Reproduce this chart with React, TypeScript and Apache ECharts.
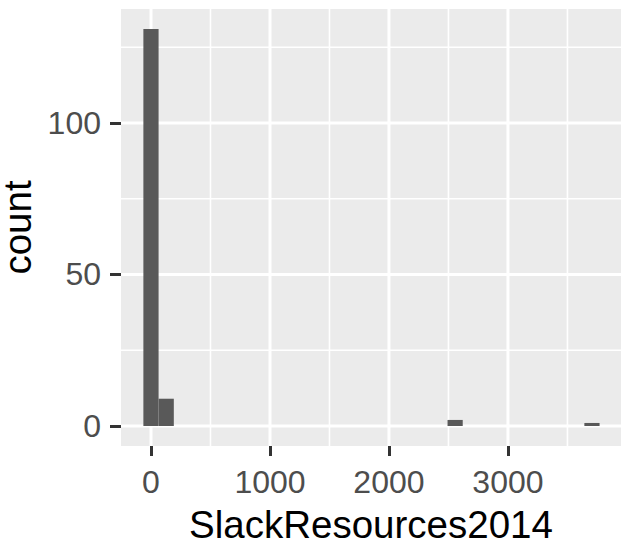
import React, { useEffect, useRef } from "react";
import * as echarts from "echarts";

// Histogram bins (30 bins, only non-empty ones listed)
const binCenters = [0, 128, 2556, 3706];
const binCounts = [131, 9, 2, 1];
const binWidth = 127.8;

const xTicks = [0, 1000, 2000, 3000];
const xMinor = [500, 1500, 2500, 3500];
const yTicks = [0, 50, 100];
const yMinor = [25, 75, 125];

const X_MIN = -252;
const X_MAX = 3950;
const Y_MIN = -6.6;
const Y_MAX = 137.6;

const FONT = "'Liberation Sans', Arial, sans-serif";

function gridSeries(values: number[], vertical: boolean, width: number, z: number) {
  return {
    type: "custom",
    silent: true,
    z,
    clip: true,
    data: values.map((v) => (vertical ? [v, 0] : [0, v])),
    renderItem: (params: any, api: any) => {
      const cs = params.coordSys;
      const p = api.coord([api.value(0), api.value(1)]);
      const shape = vertical
        ? { x1: p[0], y1: cs.y, x2: p[0], y2: cs.y + cs.height }
        : { x1: cs.x, y1: p[1], x2: cs.x + cs.width, y2: p[1] };
      return {
        type: "line",
        shape,
        style: { stroke: "#FFFFFF", lineWidth: width },
      };
    },
  };
}

export default function App() {
  const ref = useRef<HTMLDivElement>(null);
  useEffect(() => {
    if (!ref.current) return;
    const chart = echarts.init(ref.current, undefined, { renderer: "svg" });
    chart.setOption({
      animation: false,
      backgroundColor: "#FFFFFF",
      grid: {
        left: 121,
        right: 12,
        top: 9,
        bottom: 105,
        show: true,
        backgroundColor: "#EBEBEB",
        borderWidth: 0,
        containLabel: false,
        outerBoundsMode: "none",
      },
      xAxis: {
        type: "value",
        min: X_MIN,
        max: X_MAX,
        splitLine: { show: false },
        axisLine: { show: false, onZero: false },
        axisTick: {
          show: true,
          length: 10,
          customValues: xTicks,
          lineStyle: { color: "#333333", width: 3 },
        },
        axisLabel: {
          customValues: xTicks,
          formatter: (v: number) => String(v),
          fontSize: 32,
          color: "#4D4D4D",
          margin: 20,
          fontFamily: FONT,
        },
        name: "SlackResources2014",
        nameLocation: "middle",
        nameGap: 59,
        nameTextStyle: { fontSize: 38.5, color: "#000000", fontFamily: FONT },
      },
      yAxis: {
        type: "value",
        min: Y_MIN,
        max: Y_MAX,
        splitLine: { show: false },
        axisLine: { show: false, onZero: false },
        axisTick: {
          show: true,
          length: 11,
          customValues: yTicks,
          lineStyle: { color: "#333333", width: 3 },
        },
        axisLabel: {
          customValues: yTicks,
          formatter: (v: number) => String(v),
          fontSize: 32,
          color: "#4D4D4D",
          margin: 20,
          fontFamily: FONT,
        },
        name: "count",
        nameLocation: "middle",
        nameGap: 74,
        nameTextStyle: {
          fontSize: 38.5,
          lineHeight: 38,
          color: "#000000",
          fontFamily: FONT,
        },
      },
      series: [
        gridSeries(xMinor, true, 1.6, 1),
        gridSeries(yMinor, false, 1.6, 1),
        gridSeries(xTicks, true, 3, 2),
        gridSeries(yTicks, false, 3, 2),
        {
          type: "custom",
          z: 3,
          data: binCenters.map((c, i) => [c, binCounts[i]]),
          renderItem: (params: any, api: any) => {
            const c = api.value(0);
            const n = api.value(1);
            const p0 = api.coord([c - binWidth / 2, n]);
            const p1 = api.coord([c + binWidth / 2, 0]);
            return {
              type: "rect",
              shape: {
                x: p0[0],
                y: p0[1],
                width: p1[0] - p0[0],
                height: p1[1] - p0[1],
              },
              style: { fill: "#595959" },
            };
          },
        },
      ],
    });
    return () => chart.dispose();
  }, []);
  return (
    <div
      ref={ref}
      style={{ position: "fixed", left: 0, top: 0, width: 633, height: 551 }}
    />
  );
}
